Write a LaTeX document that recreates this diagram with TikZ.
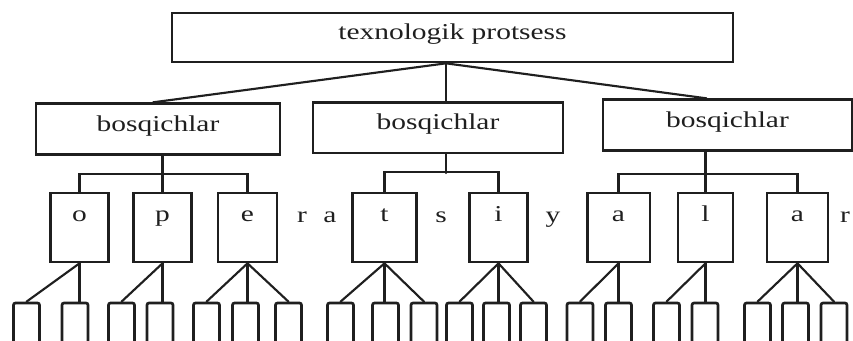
\documentclass[tikz,border=0pt]{standalone}
\usepackage{fontspec}
\setmainfont{Liberation Serif}[FakeStretch=1.3]
\begin{document}
\begin{tikzpicture}[x=0.75pt,y=-0.75pt,
  font=\fontsize{17}{20}\selectfont,
  line width=1.6pt, line cap=round, color={black!88},
  box/.style={draw, line width=2pt, inner sep=0pt},
  topbox/.style={box, minimum width=420.75pt, minimum height=36.75pt, text height=11.25pt, text depth=9pt},
  stagebox/.style={box, minimum height=38pt, text height=11.25pt, text depth=8.25pt},
  letterbox/.style={box, minimum width=43.5pt, minimum height=51.75pt, text height=11.25pt, text depth=20.5pt},
  leafbox/.style={box, rounded corners=1.5pt, minimum width=19.5pt, minimum height=35.25pt},
  loose/.style={anchor=base, inner sep=0pt}]
\useasboundingbox (0,0) rectangle (853,340);

% top
\node[topbox] (T) at (452.5,37.5) {texnologik protsess};

% stages
\node[stagebox, minimum width=183pt] (B1) at (158,129) {bosqichlar};
\node[stagebox, minimum width=187.5pt] (B2) at (438,127.5) {bosqichlar};
\node[stagebox, minimum width=186.75pt] (B3) at (727.5,125) {bosqichlar};

% letter boxes
\node[letterbox] (L1) at (79.5,227.5) {o};
\node[letterbox] (L2) at (162.5,227.5) {p};
\node[letterbox, minimum width=44.25pt] (L3) at (247.5,227.5) {e};
\node[letterbox, minimum width=48pt] (L4) at (384.5,227.5) {t};
\node[letterbox] (L5) at (498.5,227.5) {i};
\node[letterbox, minimum width=47pt] (L6) at (618.5,227.5) {a};
\node[letterbox, minimum width=41.25pt] (L7) at (705.5,227.5) {l};
\node[letterbox, minimum width=45.75pt] (L8) at (797.5,227.5) {a};

% loose letters
\node[loose] (r1) at (302,222) {r};
\node[loose] (a1) at (330,222) {a};
\node[loose] (s1) at (441,222) {s};
\node[loose] (y1) at (553,222) {y};
\node[loose] (r2) at (845,222) {r};

% leaves
\foreach \i/\x in {1/26.5,2/75,3/121.5,4/160,5/206.5,6/245.5,7/288.5,8/340.5,9/385.5,10/424,
                   11/459.5,12/496.5,13/533.5,14/580,15/618.5,16/666.5,17/705,18/757.5,19/795.5,20/834}
  \node[leafbox] (f\i) at (\x,326.5) {};

% top fan
\coordinate (m2) at (446,173);
\coordinate (fan) at (T.south -| m2);
\draw (fan) -- ([xshift=-3.75pt]B1.north);
\draw (fan) -- (fan |- B2.north);
\draw (fan) -- ([xshift=-15.75pt]B3.north);

% stage to letters
\draw (B1.south -| L2.north) -- (L2.north);
\draw (L1.north) -- ++(0,-18) -| (L3.north);
\draw (B2.south -| m2) -- (m2);
\draw (L4.north) -- ++(0,-20) -| (L5.north);
\draw (B3.south -| L7.north) -- (L7.north);
\draw (L6.north) -- ++(0,-18) -| (L8.north);

% letters to leaves
\foreach \p/\c in {L1/f1,L2/f3,L3/f5,L3/f7,L4/f8,L4/f10,L5/f11,L5/f13,L6/f14,L7/f16,L8/f18,L8/f20}
  \draw (\p.south) -- (\c.north);
\foreach \p/\c in {L1/f2,L2/f4,L3/f6,L4/f9,L5/f12,L6/f15,L7/f17,L8/f19}
  \draw (\p.south) -- (\p.south |- \c.north);
\end{tikzpicture}
\end{document}
